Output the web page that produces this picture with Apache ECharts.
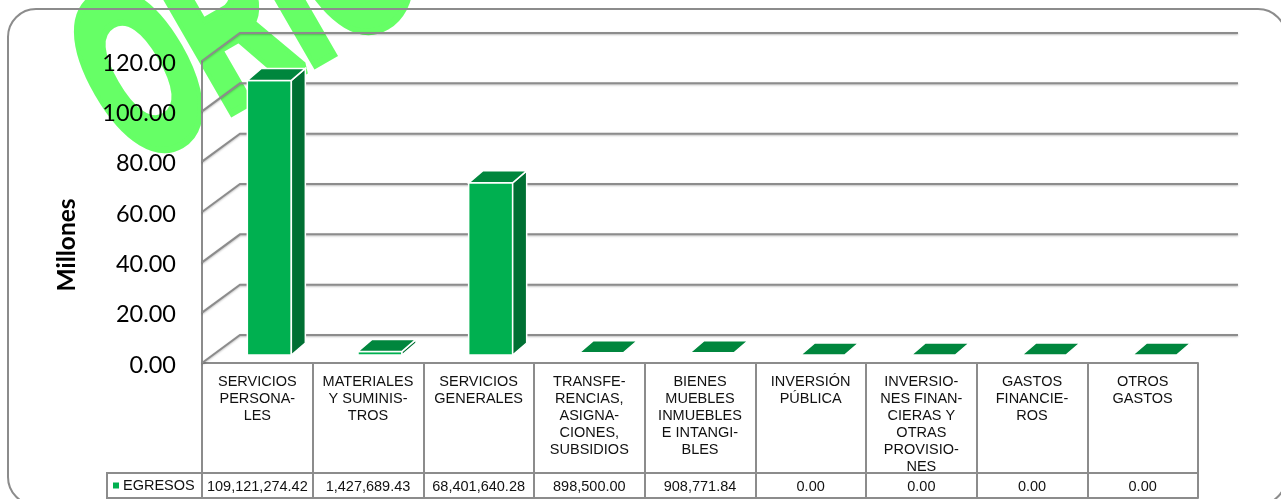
<!DOCTYPE html>
<html>
<head>
<meta charset="utf-8">
<title>Egresos</title>
<script src="https://cdn.jsdelivr.net/npm/echarts@6/dist/echarts.min.js"></script>
<style>
  html, body { margin: 0; padding: 0; background: #fff; overflow: hidden; }
  #main { width: 1281px; height: 499px; }
</style>
</head>
<body>
<div id="main"></div>
<script>
var categories = [
  'SERVICIOS\nPERSONA-\nLES',
  'MATERIALES\nY SUMINIS-\nTROS',
  'SERVICIOS\nGENERALES',
  'TRANSFE-\nRENCIAS,\nASIGNA-\nCIONES,\nSUBSIDIOS',
  'BIENES\nMUEBLES\nINMUEBLES\nE INTANGI-\nBLES',
  'INVERSIÓN\nPÚBLICA',
  'INVERSIO-\nNES FINAN-\nCIERAS Y\nOTRAS\nPROVISIO-\nNES',
  'GASTOS\nFINANCIE-\nROS',
  'OTROS\nGASTOS'
];
var egresos = [109121274.42, 1427689.43, 68401640.28, 898500.00, 908771.84, 0, 0, 0, 0];
var seriesName = 'EGRESOS';
var yTicks = [0, 20000000, 40000000, 60000000, 80000000, 100000000, 120000000];
var watermark = 'ORIGINAL';

var gridColor = '#8c8c8c';
var tableFont = 'Liberation Sans';

var rowLabels = egresos.map(function (v) {
  return v.toLocaleString('en-US', { minimumFractionDigits: 2, maximumFractionDigits: 2 });
});

// pared del fondo, lineas en falsa perspectiva
function renderWall(params, api) {
  var cs = params.coordSys;
  var y = api.coord([0, api.value(0)])[1];
  var x0 = cs.x, x1 = cs.x + cs.width;
  return {
    type: 'polyline',
    shape: { points: [[x0, y], [x0 + 38, y - 28], [x1 + 40, y - 28]] },
    style: {
      fill: 'none', stroke: gridColor, lineWidth: 2,
      shadowColor: 'rgba(0,0,0,0.25)', shadowBlur: 2, shadowOffsetY: 1
    }
  };
}

// barra 3D: frente, tapa y lateral
function renderBar(params, api) {
  var idx = api.value(0);
  var val = api.value(1);
  var c = api.coord([idx, val]);
  var base = api.coord([idx, 0]);
  var left = c[0] - 10, w = 44, dx = 14, dy = 12;
  var top = c[1] - 8, bottom = base[1] - 8;
  var right = left + w;
  var edge = { stroke: '#fff', lineWidth: 1.5 };
  var children = [];
  if (val > 1000000) {
    children.push({
      type: 'rect',
      shape: { x: left, y: top, width: w, height: bottom - top },
      style: Object.assign({ fill: '#00B050' }, edge)
    });
    children.push({
      type: 'polygon',
      shape: { points: [[right, top], [right + dx, top - dy], [right + dx, bottom - dy], [right, bottom]] },
      style: Object.assign({ fill: '#007033' }, edge)
    });
  }
  children.push({
    type: 'polygon',
    shape: { points: [[left, top], [left + dx, top - dy], [right + dx, top - dy], [right, top]] },
    style: Object.assign({ fill: '#00863D' }, edge)
  });
  return { type: 'group', children: children };
}

var chart = echarts.init(document.getElementById('main'));

var option = {
  animation: false,
  backgroundColor: '#fff',
  grid: { left: 202, top: 61, width: 996, height: 302 },
  legend: {
    data: [seriesName],
    left: 113,
    top: 478,
    padding: 0,
    itemWidth: 6,
    itemHeight: 6,
    itemGap: 4,
    icon: 'rect',
    textStyle: { fontFamily: tableFont, fontSize: 14.5, color: '#111', padding: [0, 0, 0, -1] }
  },
  xAxis: [
    {
      type: 'category',
      data: categories,
      axisLine: { lineStyle: { color: gridColor, width: 2 } },
      axisTick: { show: true, length: 135, lineStyle: { color: gridColor, width: 2 } },
      axisLabel: {
        interval: 0, margin: 10, verticalAlign: 'top', lineHeight: 17,
        fontFamily: tableFont, fontSize: 14.5, color: '#111'
      }
    },
    {
      type: 'category',
      position: 'bottom',
      offset: 110,
      data: rowLabels,
      axisLine: { lineStyle: { color: gridColor, width: 2 } },
      axisTick: { show: false },
      axisLabel: {
        interval: 0, margin: 6, verticalAlign: 'top',
        fontFamily: tableFont, fontSize: 14.5, color: '#111'
      }
    },
    {
      type: 'category',
      position: 'bottom',
      offset: 135,
      data: rowLabels,
      axisLine: { lineStyle: { color: gridColor, width: 2 } },
      axisTick: { show: false },
      axisLabel: { show: false }
    }
  ],
  yAxis: {
    type: 'value',
    min: 0,
    max: 120000000,
    interval: 20000000,
    name: 'Millones',
    nameLocation: 'middle',
    nameGap: 122,
    nameTextStyle: {
      fontFamily: 'Lato', fontWeight: 'bold', fontSize: 24.5, color: '#000',
      padding: [0, 66, 0, 0]
    },
    axisLine: { show: true, lineStyle: { color: gridColor, width: 2 } },
    axisTick: { show: false },
    splitLine: { show: false },
    axisLabel: {
      margin: 26,
      verticalAlign: 'top',
      lineHeight: 4,
      fontFamily: 'Lato', fontSize: 23.5, color: '#000',
      formatter: function (v) { return (v / 1000000).toFixed(2); }
    }
  },
  series: [
    {
      type: 'custom',
      name: 'pared',
      renderItem: renderWall,
      data: yTicks.map(function (v) { return [v]; }),
      encode: { y: 0 },
      silent: true,
      z: 1
    },
    {
      type: 'custom',
      name: seriesName,
      renderItem: renderBar,
      itemStyle: { color: '#00B050' },
      data: egresos.map(function (v, i) { return [i, v]; }),
      encode: { x: 0, y: 1 },
      z: 3
    }
  ],
  graphic: [
    {
      type: 'text',
      x: 160, y: 211,
      rotation: Math.PI / 6,
      scaleY: 1.75,
      z: -5,
      silent: true,
      style: {
        text: watermark,
        fill: '#66FF66',
        stroke: '#66FF66',
        lineWidth: 8,
        font: 'bold 133px "Liberation Sans"',
        textVerticalAlign: 'bottom'
      }
    },
    {
      type: 'rect',
      z: -1,
      silent: true,
      shape: { x: 8, y: 9, width: 1278, height: 496, r: 28 },
      style: { fill: 'none', stroke: gridColor, lineWidth: 2 }
    },
    {
      type: 'rect',
      z: -1,
      silent: true,
      shape: { x: 107, y: 473, width: 95, height: 25 },
      style: { fill: '#fff', stroke: gridColor, lineWidth: 2 }
    }
  ]
};

chart.setOption(option);
</script>
</body>
</html>
